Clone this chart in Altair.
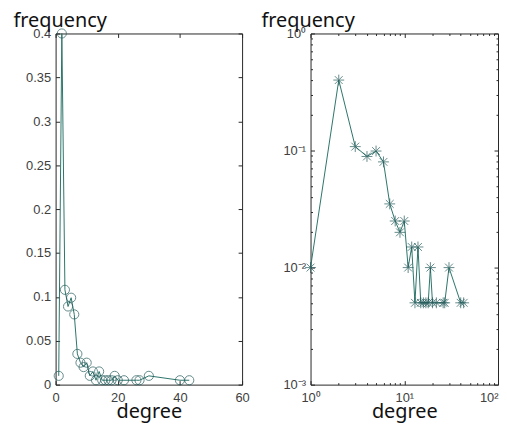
import math
import altair as alt
import pandas as pd

# ---- data ----
degree = [1, 2, 3, 4, 5, 6, 7, 8, 9, 10, 11, 12, 13, 14, 15, 16, 17, 18, 19, 20, 22, 26, 27, 30, 40, 43]
frequency = [0.01, 0.40, 0.108, 0.089, 0.099, 0.08, 0.035, 0.025, 0.02, 0.025, 0.01, 0.015, 0.005,
             0.015, 0.005, 0.005, 0.005, 0.005, 0.01, 0.005, 0.005, 0.005, 0.005, 0.01, 0.005, 0.005]

lin_x_ticks = [0, 20, 40, 60]
lin_y_ticks = [0, 0.05, 0.1, 0.15, 0.2, 0.25, 0.3, 0.35, 0.4]
log_x_major = [1, 10]
log_x_end = [100]
log_x_labels = ["10\u2070", "10\u00b9", "10\u00b2"]
log_y_major = [0.001, 0.01, 0.1, 1]
log_y_labels = ["10\u207b\u00b3", "10\u207b\u00b2", "10\u207b\u00b9", "10\u2070"]
log_x_minor = [2, 3, 4, 5, 6, 7, 8, 9, 20, 30, 40, 50, 60, 70, 80, 90]
log_y_minor = [0.002, 0.003, 0.004, 0.005, 0.006, 0.007, 0.008, 0.009,
               0.02, 0.03, 0.04, 0.05, 0.06, 0.07, 0.08, 0.09,
               0.2, 0.3, 0.4, 0.5, 0.6, 0.7, 0.8, 0.9]

df = pd.DataFrame({"degree": degree, "frequency": frequency})

LINE = "#2c7469"
MARK = "#245a5a"
FRAME = "#262626"
LABEL_FONT = "Liberation Sans"
TITLE_FONT = "Noto Sans"


def label_expr(values, labels):
    expr = "''"
    for v, lab in zip(values, labels):
        e = round(math.log10(v))
        expr = f"(round(log(datum.value)/LN10) == {e}) ? '{lab}' : " + expr
    return expr


LOGX_EXPR = label_expr(log_x_major + log_x_end, log_x_labels)
LOGY_EXPR = label_expr(log_y_major, log_y_labels)


def axis(orient, values, labels=True, size=4, **kw):
    base = dict(orient=orient, values=values, domain=False, grid=False,
                tickSize=size, offset=-size, tickColor=FRAME, tickWidth=1,
                labels=labels, labelFont=LABEL_FONT, labelFontSize=13,
                labelColor="#404040", labelFlush=False)
    if labels:
        base["labelPadding"] = 7 if orient == "bottom" else 5
    base.update(kw)
    return alt.Axis(**base)


def ytitle(tx):
    return dict(title="frequency", titleAngle=0, titleAlign="left",
                titleBaseline="alphabetic", titleX=tx, titleY=-7,
                titleFont=TITLE_FONT, titleFontSize=20, titleFontWeight="normal",
                titleColor="#111111")


xtitle = dict(title="degree", titleFont=TITLE_FONT, titleFontSize=20,
              titleFontWeight="normal", titleColor="#111111", titlePadding=-3)

H = 354

# ---- left panel: linear ----
xs = alt.Scale(domain=[0, 60], nice=False, zero=False)
ys = alt.Scale(domain=[0, 0.4], nice=False)

left_line = alt.Chart(df).mark_line(color=LINE, strokeWidth=1).encode(
    x=alt.X("degree:Q", scale=xs, axis=axis("bottom", lin_x_ticks, **xtitle)),
    y=alt.Y("frequency:Q", scale=ys, axis=axis("left", lin_y_ticks, format="~g", **ytitle(-47))),
)
left_pts = alt.Chart(df).mark_point(shape="circle", filled=False, color=MARK, size=85, strokeWidth=1).encode(
    x=alt.X("degree:Q", scale=xs, axis=axis("top", lin_x_ticks, labels=False), title=None),
    y=alt.Y("frequency:Q", scale=ys, axis=axis("right", lin_y_ticks, labels=False), title=None),
)
left = alt.layer(left_line, left_pts).resolve_axis(x="independent", y="independent").properties(
    width=188, height=H)

# ---- right panel: log-log ----
lxs = alt.Scale(type="log", domain=[1, 100], nice=False)
lys = alt.Scale(type="log", domain=[0.001, 1], nice=False)

ASTERISK = "M0,-1L0,1M-1,0L1,0M-0.72,-0.72L0.72,0.72M-0.72,0.72L0.72,-0.72"

right_line = alt.Chart(df).mark_line(color=LINE, strokeWidth=1).encode(
    x=alt.X("degree:Q", scale=lxs,
            axis=axis("bottom", log_x_major, labelExpr=LOGX_EXPR, **xtitle)),
    y=alt.Y("frequency:Q", scale=lys,
            axis=axis("left", log_y_major, labelExpr=LOGY_EXPR, **ytitle(-54))),
)
right_pts = alt.Chart(df).mark_point(shape=ASTERISK, filled=False, color=MARK, size=120, strokeWidth=1).encode(
    x=alt.X("degree:Q", scale=lxs, axis=axis("top", log_x_major + log_x_end, labels=False), title=None),
    y=alt.Y("frequency:Q", scale=lys, axis=axis("right", log_y_major, labels=False), title=None),
)
end_label = alt.Chart(df).mark_point(opacity=0).encode(
    x=alt.X("degree:Q", scale=lxs,
            axis=axis("bottom", log_x_end, labelExpr=LOGX_EXPR, labelFlush=True), title=None),
    y=alt.Y("frequency:Q", scale=lys, axis=None),
)
minor_a = alt.Chart(df).mark_point(opacity=0).encode(
    x=alt.X("degree:Q", scale=lxs, axis=axis("bottom", log_x_minor, labels=False, size=2), title=None),
    y=alt.Y("frequency:Q", scale=lys, axis=axis("left", log_y_minor, labels=False, size=2), title=None),
)
minor_b = alt.Chart(df).mark_point(opacity=0).encode(
    x=alt.X("degree:Q", scale=lxs, axis=axis("top", log_x_minor, labels=False, size=2), title=None),
    y=alt.Y("frequency:Q", scale=lys, axis=axis("right", log_y_minor, labels=False, size=2), title=None),
)
right = alt.layer(minor_a, minor_b, end_label, right_line, right_pts).resolve_axis(
    x="independent", y="independent").properties(width=189, height=H)

chart = alt.hconcat(left, right, spacing=10).properties(
    padding={"left": 4, "top": 0, "right": 0, "bottom": 0},
    background="white",
).configure_view(stroke=FRAME, strokeWidth=1)

chart.save("out.html", embed_options={"renderer": "svg", "actions": False})
